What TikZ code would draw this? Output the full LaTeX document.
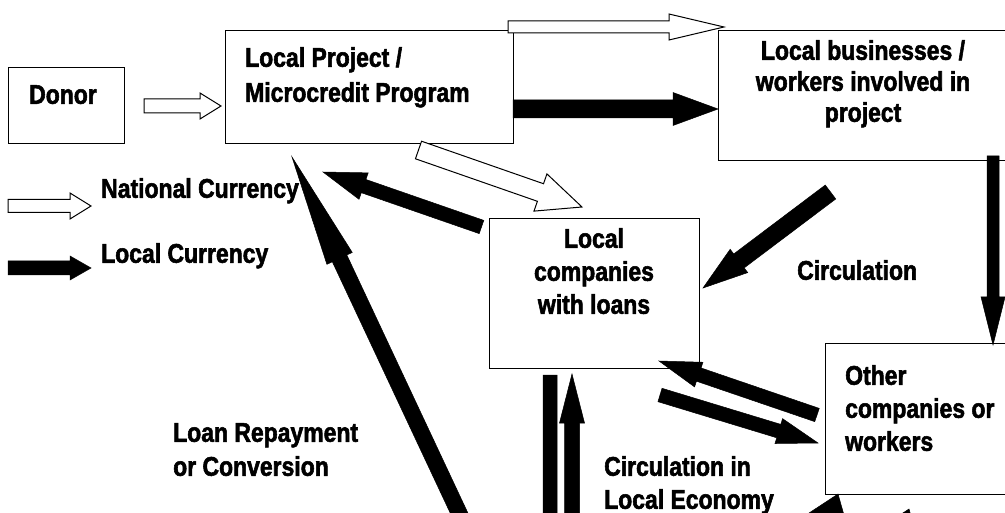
\documentclass[tikz,border=0pt]{standalone}
\usepackage{fontspec}
\usetikzlibrary{calc}
\newfontfamily\impact{Liberation Sans}[FakeStretch=0.85,BoldFeatures={FakeBold=2}]
\newcommand{\blockarrow}[6][]{%
	\coordinate (hb) at ($(#3)!#6!(#2)$);
	\draw[#1] ($(#2)!#4!90:(#3)$) -- ($(hb)!#4!90:(#3)$) -- ($(hb)!#5!90:(#3)$) -- (#3)
		-- ($(hb)!#5!-90:(#3)$) -- ($(hb)!#4!-90:(#3)$) -- ($(#2)!#4!-90:(#3)$) -- cycle;}

\begin{document}
\begin{tikzpicture}[x=1pt, y=-1pt,
	box/.style={draw, line width=1pt, inner sep=0pt},
	txt/.style={font=\impact\bfseries\fontsize{27}{33}\selectfont, inner sep=0pt, anchor=north west, align=left},
	natcur/.style={draw, fill=white, line width=1pt},
	loccur/.style={draw, fill=black, line width=0.5pt}]
	\useasboundingbox (0,0) rectangle (1005,513);
	\clip (0,0) rectangle (1005,513);

	\node[box, minimum width=116pt, minimum height=76pt] (donor) at (66,106) {};
	\node[box, minimum width=288pt, minimum height=113pt] (proj) at (369,87.5) {};
	\node[box, minimum width=294pt, minimum height=130pt] (biz) at (865,96) {};
	\node[box, minimum width=210pt, minimum height=149pt] (loans) at (594,293.5) {};
	\node[box, minimum width=187pt, minimum height=150pt] (other) at (918.5,419) {};

	\node[txt] (donorlbl) at (29,85) {Donor};
	\node[txt, font=\impact\bfseries\fontsize{27}{35}\selectfont] (projlbl) at (245,47) {Local Project /\\Microcredit Program};
	\node[txt, anchor=north, align=center, font=\impact\bfseries\fontsize{27}{31}\selectfont] (bizlbl) at (863,40) {Local businesses /\\workers involved in\\project};
	\node[txt, anchor=north, align=center] (loanslbl) at (594,228) {Local\\companies\\with loans};
	\node[txt] (otherlbl) at (845,365) {Other\\companies or\\workers};
	\node[txt] (natlbl) at (101,178) {National Currency};
	\node[txt] (loclbl) at (101,243) {Local Currency};
	\node[txt] (circlbl) at (797,260) {Circulation};
	\node[txt, font=\impact\bfseries\fontsize{27}{34}\selectfont] (repaylbl) at (173,423) {Loan Repayment\\or Conversion};
	\node[txt] (econlbl) at (604,456) {Circulation in\\Local Economy};

	\coordinate (donor-out) at (144,106);
	\coordinate (proj-in) at (221,106);
	\coordinate (natkey-a) at (8,206);
	\coordinate (natkey-b) at (91,206);
	\coordinate (lockey-a) at (8,268);
	\coordinate (lockey-b) at (91,268);
	\coordinate (top-a) at (508,27);
	\coordinate (top-b) at (724,27);
	\coordinate (proj-out) at (513,109);
	\coordinate (biz-in) at (718,109);
	\coordinate (diag-a) at (418.5,150);
	\coordinate (diag-b) at (582,207);
	\coordinate (loans-out) at (481.5,227);
	\coordinate (proj-back) at (323,172);
	\coordinate (repay-a) at (467.5,531);
	\coordinate (repay-b) at (292,157);
	\coordinate (circ-a) at (830.5,192);
	\coordinate (circ-b) at (703,288);
	\coordinate (biz-out) at (993,156);
	\coordinate (other-in) at (993,345);
	\coordinate (other-out) at (817,415);
	\coordinate (loans-in) at (659,361);
	\coordinate (loans-to) at (660,395);
	\coordinate (other-from) at (818,443);
	\coordinate (up-a) at (572,530);
	\coordinate (up-b) at (572,374);
	\coordinate (down-a) at (550,375);
	\coordinate (down-b) at (550,620);
	\coordinate (low-a) at (803,588);
	\coordinate (low-b) at (838,494);
	\coordinate (low2-a) at (874,603);
	\coordinate (low2-b) at (909,509);

	\blockarrow[natcur]{donor-out}{proj-in}{7pt}{13pt}{21pt}
	\blockarrow[natcur]{natkey-a}{natkey-b}{6.5pt}{13pt}{21pt}
	\blockarrow[loccur]{lockey-a}{lockey-b}{7pt}{12pt}{21pt}
	\blockarrow[natcur]{top-a}{top-b}{6pt}{13pt}{55pt}
	\blockarrow[loccur]{proj-out}{biz-in}{9pt}{16.5pt}{45pt}
	\blockarrow[natcur]{diag-a}{diag-b}{9.3pt}{19.7pt}{44pt}
	\blockarrow[loccur]{loans-out}{proj-back}{7pt}{14pt}{43pt}
	\blockarrow[loccur]{repay-a}{repay-b}{8pt}{14pt}{112pt}
	\blockarrow[loccur]{circ-a}{circ-b}{8.7pt}{14.6pt}{45pt}
	\blockarrow[loccur]{biz-out}{other-in}{6pt}{12pt}{48pt}
	\blockarrow[loccur]{other-out}{loans-in}{7pt}{13pt}{42pt}
	\blockarrow[loccur]{loans-to}{other-from}{7pt}{13pt}{41pt}
	\blockarrow[loccur]{up-a}{up-b}{7.5pt}{12.5pt}{49pt}
	\blockarrow[loccur]{down-a}{down-b}{7pt}{13pt}{45pt}
	\blockarrow[loccur]{low-a}{low-b}{9pt}{22pt}{30pt}
	\blockarrow[loccur]{low2-a}{low2-b}{9pt}{22pt}{30pt}
\end{tikzpicture}
\end{document}
